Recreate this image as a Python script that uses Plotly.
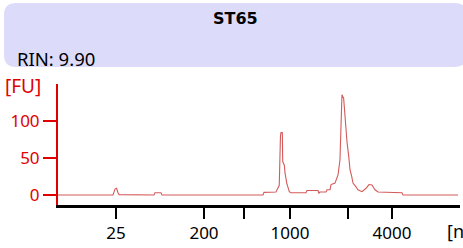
import plotly.graph_objects as go

# Electropherogram trace (migration time [s] vs fluorescence [FU])
time_s = [18.00, 24.84, 25.09, 25.28, 25.46, 25.59, 29.94, 30.06, 30.81, 30.93,
          43.50, 43.62, 45.11, 45.28, 45.52, 45.67, 45.74, 45.90, 45.95, 46.15,
          46.23, 46.45, 46.61, 46.77, 46.98, 48.85, 48.97, 50.34, 50.46, 50.59,
          51.33, 51.46, 51.83, 51.96, 52.45, 52.83, 53.07, 53.20, 53.32, 53.53,
          53.70, 53.94, 54.16, 54.32, 54.53, 54.69, 55.06, 55.31, 55.81, 56.31,
          56.68, 57.05, 57.43, 57.80, 60.79, 60.91, 67.75]
fu = [0, 0, 8, 9, 3, 0.5, 0, 3, 3, 0,
      0, 3.5, 4, 8, 13, 80, 84, 84, 45, 40,
      30, 16, 11, 4.5, 3, 3, 6, 6, 2.5, 4,
      4, 7, 7, 14, 16, 27, 47, 94, 135, 130,
      99, 72, 52, 34, 25, 16, 11, 7, 4.5, 9,
      14, 13.5, 7, 4, 3, 0, 0]

# Ladder tick positions (migration time) and labels
tick_times = [25.21, 36.16, 41.13, 46.86, 54.07, 59.54]
tick_labels = ["25", "200", "", "1000", "", "4000"]
y_ticks = [0, 50, 100]

sample_name = "ST65"
rin_text = "RIN: 9.90"

W, H = 463, 248
L, R, T, B = 58, 460, 84, 205  # plot area in pixels

def px(xp):
    return (xp - L) / (R - L)

def py(yp):
    return (B - yp) / (B - T)

fig = go.Figure()
fig.add_trace(go.Scatter(x=time_s, y=fu, mode="lines",
                         line=dict(color="#d45a5a", width=1.1),
                         hoverinfo="skip", showlegend=False))

# rounded header box
x0, x1, y0, y1, r = 4, 467, 3, 67, 12
path = (f"M {px(x0+r)},{py(y0)} L {px(x1-r)},{py(y0)} Q {px(x1)},{py(y0)} {px(x1)},{py(y0+r)} "
        f"L {px(x1)},{py(y1-r)} Q {px(x1)},{py(y1)} {px(x1-r)},{py(y1)} "
        f"L {px(x0+r)},{py(y1)} Q {px(x0)},{py(y1)} {px(x0)},{py(y1-r)} "
        f"L {px(x0)},{py(y0+r)} Q {px(x0)},{py(y0)} {px(x0+r)},{py(y0)} Z")
fig.add_shape(type="path", path=path, xref="paper", yref="paper",
              fillcolor="#dcdcfa", line=dict(width=0), layer="below")

font = "Noto Sans, DejaVu Sans, sans-serif"
bold_font = "DejaVu Sans, sans-serif"
def note(x, y, text, size, color, xanchor="center", family=font):
    fig.add_annotation(x=px(x), y=py(y), xref="paper", yref="paper",
                       xanchor=xanchor, yanchor="middle", text=text, showarrow=False,
                       font=dict(family=family, size=size, color=color))

note(235.5, 18, "<b>" + sample_name + "</b>", 16, "black", family=bold_font)
note(15, 58, rin_text, 18.5, "black", "left")
note(3, 86, "[FU]", 19, "#e00000", "left")
note(445, 231, "[nt]", 18, "black", "left")

tick_font = dict(family=font, size=17)
fig.update_layout(
    width=W, height=H,
    margin=dict(l=L, r=W - R, t=T, b=H - B, pad=0),
    paper_bgcolor="white", plot_bgcolor="white",
    font=dict(family=font, size=17),
    xaxis=dict(range=[18, 68], tickmode="array", tickvals=tick_times, ticktext=tick_labels,
               showgrid=False, zeroline=False, showline=True, linecolor="black", linewidth=2.5,
               ticks="outside", ticklen=11, tickwidth=2, tickcolor="black",
               tickfont=dict(tick_font, color="black"), fixedrange=True),
    yaxis=dict(range=[-13.5, 149.4], tickmode="array", tickvals=y_ticks,
               showgrid=False, zeroline=False, showline=True, linecolor="#e00000", linewidth=2,
               ticks="outside", ticklen=13, tickwidth=2, tickcolor="#e00000",
               tickfont=dict(tick_font, color="#e00000"), fixedrange=True),
)

fig.write_html("out.html", config={"displayModeBar": False},
               post_script="document.body.style.margin='0px';")
